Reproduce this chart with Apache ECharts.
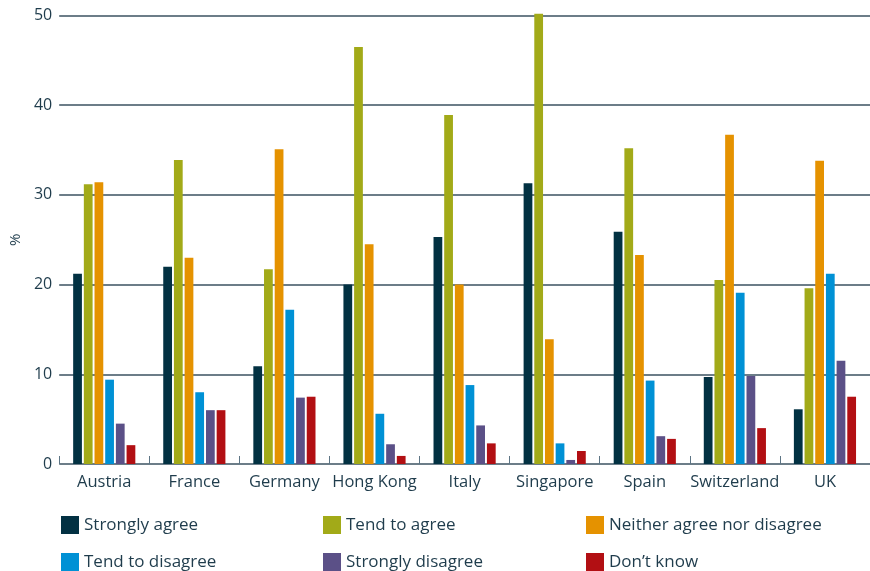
<!DOCTYPE html>
<html>
<head>
<meta charset="utf-8">
<script src="https://cdn.jsdelivr.net/npm/echarts@6/dist/echarts.min.js"></script>
<style>
  html, body { margin: 0; padding: 0; background: #ffffff; overflow: hidden; }
  #chart { width: 870px; height: 571px; }
</style>
</head>
<body>
<div id="chart"></div>
<script>
// Survey responses by market (%)
const countries = ['Austria', 'France', 'Germany', 'Hong Kong', 'Italy', 'Singapore', 'Spain', 'Switzerland', 'UK'];
const yTicks = [0, 10, 20, 30, 40, 50];

const stronglyAgree    = [21.2, 22.0, 10.9, 20.0, 25.3, 31.3, 25.9, 9.7, 6.1];
const tendToAgree      = [31.2, 33.9, 21.7, 46.5, 38.9, 50.2, 35.2, 20.5, 19.6];
const neitherAgree     = [31.4, 23.0, 35.1, 24.5, 20.0, 13.9, 23.3, 36.7, 33.8];
const tendToDisagree   = [9.4, 8.0, 17.2, 5.6, 8.8, 2.3, 9.3, 19.1, 21.2];
const stronglyDisagree = [4.5, 6.0, 7.4, 2.2, 4.3, 0.45, 3.1, 9.8, 11.5];
const dontKnow         = [2.1, 6.0, 7.5, 0.9, 2.3, 1.45, 2.8, 4.0, 7.5];

const seriesNames = ['Strongly agree', 'Tend to agree', 'Neither agree nor disagree',
                     'Tend to disagree', 'Strongly disagree', 'Don\u2019t know'];
const seriesData = [stronglyAgree, tendToAgree, neitherAgree, tendToDisagree, stronglyDisagree, dontKnow];
const colors = ['#023142', '#a2aa18', '#e59200', '#0091d5', '#5b5087', '#b20f13'];

const FONT = '"Open Sans", "Noto Sans", sans-serif';
const TEXT_COLOR = '#1f3c4c';

// Legend laid out as a 3 x 2 grid, one legend component per entry
const legendCols = [56, 318, 581];
const legendRows = [511, 548];
const legends = seriesNames.map((name, i) => ({
  data: [name],
  left: legendCols[i % 3],
  top: legendRows[Math.floor(i / 3)],
  itemWidth: 18,
  itemHeight: 18,
  itemGap: 0,
  itemTextGap: 5,
  selectedMode: false,
  icon: 'rect',
  textStyle: { fontFamily: FONT, fontSize: 17, color: TEXT_COLOR }
}));

const chart = echarts.init(document.getElementById('chart'), null, { renderer: 'canvas' });
chart.setOption({
  animation: false,
  color: colors,
  // the last category runs slightly past the right edge of the canvas
  grid: { left: 55.6, right: -11, top: 15.5, bottom: 107, containLabel: false },
  legend: legends,
  xAxis: {
    type: 'category',
    data: countries,
    axisLine: { show: false },
    axisTick: {
      show: true,
      inside: true,
      length: 8,
      lineStyle: { color: '#5d7585', width: 1 }
    },
    axisLabel: { fontFamily: FONT, fontSize: 16.5, color: TEXT_COLOR, margin: 10, interval: 0 }
  },
  yAxis: {
    type: 'value',
    min: yTicks[0],
    max: yTicks[yTicks.length - 1],
    interval: 10,
    name: '%',
    nameLocation: 'middle',
    nameGap: 36,
    nameRotate: 90,
    nameTextStyle: { fontFamily: FONT, fontSize: 15, color: TEXT_COLOR },
    axisLine: { show: false },
    axisTick: { show: false },
    axisLabel: { fontFamily: FONT, fontSize: 16, color: TEXT_COLOR, margin: 7 },
    splitLine: {
      show: true,
      lineStyle: { color: '#3b5261', width: 1.5 }
    }
  },
  series: seriesNames.map((name, i) => ({
    name: name,
    type: 'bar',
    data: seriesData[i],
    clip: false,
    barGap: '22%',
    barCategoryGap: '31%',
    itemStyle: { color: colors[i] }
  }))
});
</script>
</body>
</html>
